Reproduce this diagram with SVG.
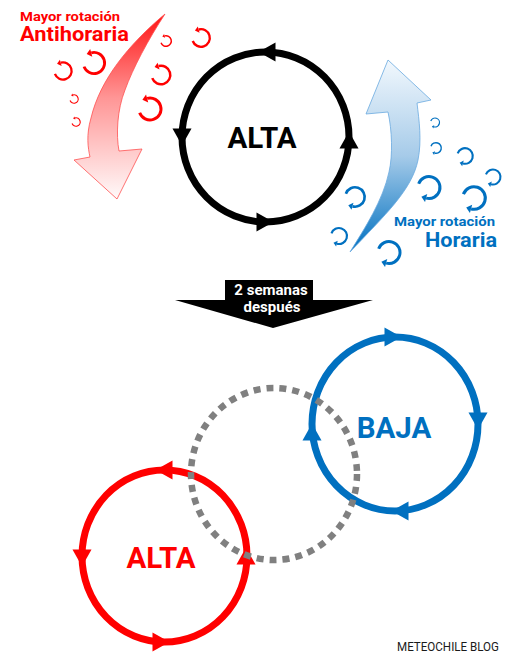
<svg xmlns="http://www.w3.org/2000/svg" xmlns:xlink="http://www.w3.org/1999/xlink" width="523" height="666" viewBox="0 0 523 666">
<style>
.t{font-family:Roboto,"Liberation Sans",sans-serif;font-weight:bold}
.big{font-size:29.5px}
.ring{fill:none;stroke-width:7}
.red{fill:#ff0000}
.blue{fill:#0070c0}
.blk{fill:#000}
</style>
<defs>
<linearGradient id="gr" gradientUnits="userSpaceOnUse" x1="0" y1="14" x2="0" y2="199">
<stop offset="0" stop-color="#ff1414"/>
<stop offset="0.45" stop-color="#ff9595"/>
<stop offset="1" stop-color="#fffafa"/>
</linearGradient>
<linearGradient id="gb" gradientUnits="userSpaceOnUse" x1="0" y1="252" x2="0" y2="60">
<stop offset="0" stop-color="#0070c0"/>
<stop offset="0.5" stop-color="#a6cbe9"/>
<stop offset="1" stop-color="#f2f8fd"/>
</linearGradient>
<path id="ah" d="M -8.5 -9.5 L 8.5 0 L -8.5 9.5 Z"/>
<g id="cr">
<path d="M -9.40 3.42 A 10 10 0 1 0 -2.59 -9.66" fill="none" stroke="#ff0000" stroke-width="2.7"/>
<path d="M -6.9 -8.5 L -1.6 -5.9 L -3.6 -13.2 Z" fill="#ff0000"/>
</g>
<g id="cb">
<path d="M -9.40 -3.42 A 10 10 0 1 1 -2.59 9.66" fill="none" stroke="#0070c0" stroke-width="2.7"/>
<path d="M -6.9 8.5 L -1.6 5.9 L -3.6 13.2 Z" fill="#0070c0"/>
</g>
</defs>
<rect width="523" height="666" fill="#fff"/>

<g id="connectors">
<path id="red-arrow" d="M 165 14 C 128 45 100 80 91 118 C 86 135 88 148 90 157 L 74 160 L 117 199 L 142 149 L 119 151 C 116 135 117 110 125 90 C 133 68 148 40 165 14 Z" fill="url(#gr)" stroke="#ff5050" stroke-width="0.8"/>
<path id="blue-arrow" d="M 350 252 C 385 215 412 190 418 160 C 422 140 419 120 417 103 L 431 100 L 388 60 L 366 114 L 388 112 C 392 130 393 155 389 172 C 383 200 365 228 350 252 Z" fill="url(#gb)" stroke="#6aaae0" stroke-width="0.8"/>
<g id="time-arrow">
<path d="M 225 280 L 313 280 L 313 300 L 373 300 L 273 328 L 175 300 L 225 300 Z" fill="#000"/>
<text class="t" x="271" y="295" font-size="15" fill="#fff" text-anchor="middle">2 semanas</text>
<text class="t" x="272" y="312" font-size="15" fill="#fff" text-anchor="middle">después</text>
</g>
</g>

<g id="red-curls">
<use xlink:href="#cr" transform="translate(201,38) scale(0.88)"/>
<use xlink:href="#cr" transform="translate(166,41) scale(0.53)"/>
<use xlink:href="#cr" transform="translate(94,63) scale(1.06)"/>
<use xlink:href="#cr" transform="translate(63,71) scale(0.86)"/>
<use xlink:href="#cr" transform="translate(161,75) scale(0.93)"/>
<use xlink:href="#cr" transform="translate(74,99) scale(0.42)"/>
<use xlink:href="#cr" transform="translate(76,122) scale(0.42)"/>
<use xlink:href="#cr" transform="translate(150,109) scale(1.1)"/>
</g>
<g id="blue-curls">
<use xlink:href="#cb" transform="translate(435,122.5) scale(0.45)"/>
<use xlink:href="#cb" transform="translate(436,148) scale(0.53)"/>
<use xlink:href="#cb" transform="translate(465,156) scale(0.78)"/>
<use xlink:href="#cb" transform="translate(493,177) scale(0.75)"/>
<use xlink:href="#cb" transform="translate(429,187.5) scale(1.1)"/>
<use xlink:href="#cb" transform="translate(474,198) scale(1.13)"/>
<use xlink:href="#cb" transform="translate(355,197) scale(0.97)"/>
<use xlink:href="#cb" transform="translate(339,236) scale(0.8)"/>
<use xlink:href="#cb" transform="translate(389,252.5) scale(1.1)"/>
</g>

<g id="labels">
<text class="t red" x="20" y="21" font-size="13.5" textLength="100" lengthAdjust="spacingAndGlyphs">Mayor rotación</text>
<text class="t red" x="20" y="41" font-size="19.5" textLength="109" lengthAdjust="spacingAndGlyphs">Antihoraria</text>
<text class="t blue" x="394" y="226" font-size="13.5" textLength="101" lengthAdjust="spacingAndGlyphs">Mayor rotación</text>
<text class="t blue" x="425" y="247" font-size="19.5" textLength="72" lengthAdjust="spacingAndGlyphs">Horaria</text>
</g>

<g id="node-alta-top">
<ellipse class="ring" cx="265.5" cy="137" rx="83.5" ry="85" stroke="#000"/>
<use xlink:href="#ah" class="blk" transform="translate(267,52) rotate(180)"/>
<use xlink:href="#ah" class="blk" transform="translate(182,137) rotate(90)"/>
<use xlink:href="#ah" class="blk" transform="translate(265,222)"/>
<use xlink:href="#ah" class="blk" transform="translate(349,140) rotate(-90)"/>
<text class="t big" x="262" y="148" text-anchor="middle" fill="#000">ALTA</text>
</g>

<g id="node-baja">
<ellipse class="ring" cx="395" cy="424" rx="83" ry="87" stroke="#0070c0" stroke-width="6.5"/>
<use xlink:href="#ah" class="blue" transform="translate(393,337)"/>
<use xlink:href="#ah" class="blue" transform="translate(478,421) rotate(90)"/>
<use xlink:href="#ah" class="blue" transform="translate(400,511) rotate(180)"/>
<use xlink:href="#ah" class="blue" transform="translate(312,432) rotate(-90)"/>
<text class="t big blue" x="394" y="438" text-anchor="middle">BAJA</text>
</g>

<g id="node-alta-bottom">
<ellipse class="ring" cx="164.5" cy="556" rx="82.5" ry="86" stroke="#ff0000"/>
<use xlink:href="#ah" class="red" transform="translate(164,470) rotate(180)"/>
<use xlink:href="#ah" class="red" transform="translate(82,558) rotate(90)"/>
<use xlink:href="#ah" class="red" transform="translate(161,642)"/>
<use xlink:href="#ah" class="red" transform="translate(246,556) rotate(-90)"/>
<text class="t big red" x="161" y="568" text-anchor="middle">ALTA</text>
</g>

<g id="node-former-position">
<ellipse cx="274" cy="474" rx="83" ry="86" fill="none" stroke="#808080" stroke-width="6.5" stroke-dasharray="7 6"/>
</g>

<text x="397" y="651" font-family="Roboto,'Liberation Sans',sans-serif" font-size="12.5" fill="#1a1a1a" textLength="102" lengthAdjust="spacingAndGlyphs">METEOCHILE BLOG</text>
</svg>
